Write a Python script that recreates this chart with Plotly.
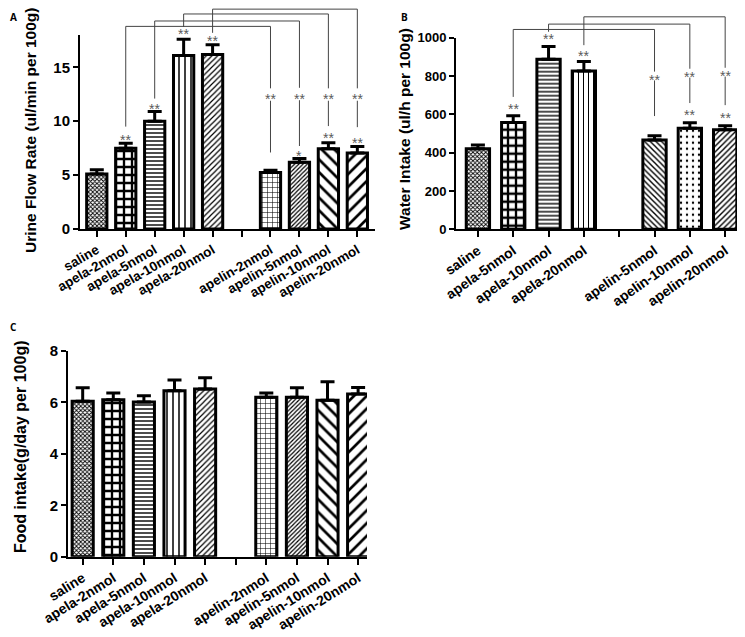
import plotly.graph_objects as go

W, H = 745, 637          # reference picture size
OFF = 8                  # default page (body) margin of the html page
FW, FH = W - OFF, H - OFF  # figure size so the figure fills the window exactly

# ---------------- data ----------------
# Panel A: urine flow rate
A_labels = ["saline", "apela-2nmol", "apela-5nmol", "apela-10nmol", "apela-20nmol", "",
            "apelin-2nmol", "apelin-5nmol", "apelin-10nmol", "apelin-20nmol"]
A_values = [5.1, 7.5, 10.0, 16.1, 16.2, 5.25, 6.2, 7.45, 7.05]
A_errors = [0.4, 0.45, 0.9, 1.5, 0.9, 0.2, 0.35, 0.55, 0.6]
A_stars = ["", "**", "**", "**", "**", "", "*", "**", "**"]
A_star_y = [None, 8.6, 11.5, 18.45, 17.8, None, 7.1, 8.8, 8.35]
A_br_left = [1, 2, 3, 4]
A_br_right = [6, 7, 8, 9]
A_br_top = [18.8, 19.3, 19.95, 20.4]
A_br_left_end = [9.5, 12.1, 18.75, 18.2]
A_br_star_y = [12.4, 12.45, 12.4, 12.4]
A_br_right_end = [7.1, 7.7, 9.55, 9.45]
A_ticks = [0, 5, 10, 15]

# Panel B: water intake
B_labels = ["saline", "apela-5nmol", "apela-10nmol", "apela-20nmol", "",
            "apelin-5nmol", "apelin-10nmol", "apelin-20nmol"]
B_values = [420, 558, 888, 826, 466, 528, 520]
B_errors = [20, 34, 66, 50, 22, 28, 20]
B_stars = ["", "**", "**", "**", "", "**", "**"]
B_star_y = [None, 648, 1013, 925, None, 617, 601]
B_br_left = [1, 2, 3]
B_br_right = [5, 6, 7]
B_br_top = [1043, 1071, 1109]
B_br_left_end = [691, 1031, 961]
B_br_star_y = [800, 815, 820]
B_br_right_end = [591, 659, 648]
B_ticks = [0, 200, 400, 600, 800, 1000]

# Panel C: food intake
C_labels = A_labels
C_values = [6.05, 6.1, 6.02, 6.45, 6.52, 6.2, 6.2, 6.08, 6.33]
C_errors = [0.52, 0.27, 0.24, 0.42, 0.44, 0.17, 0.37, 0.72, 0.25]
C_ticks = [0, 2, 4, 6, 8]

# ---------------- styles ----------------
A_pat_shape = ["x", "+", "-", "|", "/", "+", "/", "\\", "/"]
A_pat_size = [3, 8, 4, 6, 4, 5, 3, 9, 9]
A_pat_solid = [0.5, 0.5, 0.35, 0.25, 0.3, 0.2, 0.4, 0.3, 0.3]
B_pat_shape = ["x", "+", "-", "|", "\\", ".", "/"]
B_pat_size = [3, 8, 4, 5, 4, 6, 4]
B_pat_solid = [0.5, 0.5, 0.35, 0.2, 0.35, 0.12, 0.35]

FONT = "Liberation Sans"
LINE_C = "#444444"
STAR_C = "#5a5a5a"


def px_x(p):
    return max(0.0, (p - OFF) / FW)


def px_y(p):
    return 1 - (p - OFF) / FH


def dx(p0, p1):
    return [px_x(p0), px_x(p1)]


def dy(top, bot):
    return [px_y(bot), px_y(top)]


fig = go.Figure()

panels = [
    dict(x="x", y="y", labels=A_labels, values=A_values, errors=A_errors,
         shape=A_pat_shape, size=A_pat_size, solid=A_pat_solid,
         xd=dx(80, 375), yd=dy(35, 229), ymax=18, ticks=A_ticks,
         xr=[-0.58, 9.61], bw=0.70, angle=-30, xfs=13.5, yfs=15),
    dict(x="x2", y="y2", labels=B_labels, values=B_values, errors=B_errors,
         shape=B_pat_shape, size=B_pat_size, solid=B_pat_solid,
         xd=dx(456, 740), yd=dy(37.7, 229.3), ymax=1000, ticks=B_ticks,
         xr=[-0.62, 7.42], bw=0.66, angle=-35, xfs=14, yfs=13),
    dict(x="x3", y="y3", labels=C_labels, values=C_values, errors=C_errors,
         shape=A_pat_shape, size=A_pat_size, solid=A_pat_solid,
         xd=dx(68, 367), yd=dy(351, 556.7), ymax=8, ticks=C_ticks,
         xr=[-0.48, 9.29], bw=0.69, angle=-32, xfs=14, yfs=15),
]

layout = dict(template="none", width=FW, height=FH, autosize=False,
              margin=dict(l=0, r=0, t=0, b=0, pad=0),
              plot_bgcolor="rgba(0,0,0,0)", paper_bgcolor="white", showlegend=False,
              font=dict(family=FONT, color="black"))

for i, p in enumerate(panels):
    xs = [k for k, l in enumerate(p["labels"]) if l]
    fig.add_trace(go.Bar(
        x=xs, y=p["values"], width=p["bw"], xaxis=p["x"], yaxis=p["y"],
        marker=dict(color="white", line=dict(color="black", width=3),
                    pattern=dict(shape=p["shape"], size=p["size"], solidity=p["solid"],
                                 fgcolor="black", bgcolor="white", fillmode="replace")),
        error_y=dict(type="data", array=p["errors"], arrayminus=[0] * len(xs),
                     symmetric=False, color="black", thickness=3, width=7),
    ))
    xn = "xaxis" + p["x"][1:]
    yn = "yaxis" + p["y"][1:]
    layout[xn] = dict(domain=p["xd"], anchor=p["y"], range=p["xr"], automargin=False,
                      tickmode="array", tickvals=list(range(len(p["labels"]))),
                      ticktext=p["labels"], tickangle=p["angle"],
                      ticks="outside", ticklen=6, tickwidth=2, tickcolor="black",
                      showline=True, linewidth=2, linecolor="black",
                      showgrid=False, zeroline=False,
                      tickfont=dict(family=FONT, size=p["xfs"], weight="bold", color="black"))
    layout[yn] = dict(domain=p["yd"], anchor=p["x"], range=[0, p["ymax"]], automargin=False,
                      tickmode="array", tickvals=p["ticks"],
                      ticks="outside", ticklen=5, tickwidth=2, tickcolor="black",
                      showline=True, linewidth=2, linecolor="black",
                      showgrid=False, zeroline=False,
                      tickfont=dict(family=FONT, size=p["yfs"], weight="bold", color="black"))


# hidden axes (same scale, taller domain) for significance brackets
def bracket_axis(name, p):
    d0, d1 = p["yd"]
    top = 1.0
    rng = p["ymax"] * (top - d0) / (d1 - d0)
    layout[name] = dict(domain=[d0, top], anchor=p["x"], range=[0, rng], visible=False,
                        automargin=False, fixedrange=True, showgrid=False, zeroline=False)


bracket_axis("yaxis4", panels[0])
bracket_axis("yaxis5", panels[1])

annotations = []


def add_brackets(xa, ya, left, right, top, lend, stary, rend, gap_up, gap_dn):
    bx, by = [], []
    for l, r, t, le, s, re in zip(left, right, top, lend, stary, rend):
        bx += [l, l, r, r, None, r, r, None]
        by += [le, t, t, s + gap_up, None, s - gap_dn, re, None]
        annotations.append(dict(x=r, y=s, xref=xa, yref=ya, text="**", showarrow=False,
                                yshift=-4, font=dict(family=FONT, size=14, color=STAR_C)))
    fig.add_trace(go.Scatter(x=bx, y=by, mode="lines", xaxis=xa, yaxis=ya,
                             line=dict(color=LINE_C, width=1), hoverinfo="skip"))


def add_bar_stars(xa, ya, labels, stars, sy):
    xs = [k for k, l in enumerate(labels) if l]
    for x, s, y in zip(xs, stars, sy):
        if s and y is not None:
            annotations.append(dict(x=x, y=y, xref=xa, yref=ya, text=s, showarrow=False,
                                    yshift=-4, font=dict(family=FONT, size=14, color=STAR_C)))


add_brackets("x", "y4", A_br_left, A_br_right, A_br_top, A_br_left_end,
             A_br_star_y, A_br_right_end, 0.65, 0.5)
add_bar_stars("x", "y4", A_labels, A_stars, A_star_y)
add_brackets("x2", "y5", B_br_left, B_br_right, B_br_top, B_br_left_end,
             B_br_star_y, B_br_right_end, 23, 23)
add_bar_stars("x2", "y5", B_labels, B_stars, B_star_y)

# axis titles (text, centre x px, centre y px, size)
titles = [("Urine Flow Rate (ul/min per 100g)", 31, 131, 15.5),
          ("Water Intake (ul/h per 100g)", 405, 129, 15.5),
          ("Food intake(g/day per 100g)", 20, 447, 16)]
for t, xp, yp, fs in titles:
    annotations.append(dict(text=t, x=px_x(xp), y=px_y(yp), xref="paper", yref="paper",
                            textangle=-90, showarrow=False, xanchor="center", yanchor="middle",
                            font=dict(family=FONT, size=fs, weight="bold", color="black")))

# panel letters
for letter, xp, yp in [("A", 8, 8), ("B", 399, 8), ("C", 8, 318)]:
    annotations.append(dict(text=letter, x=px_x(xp), y=px_y(yp), xref="paper", yref="paper",
                            showarrow=False, xanchor="left", yanchor="top",
                            font=dict(family="Open Sans", size=10, weight="bold", color="black")))

layout["annotations"] = annotations
fig.update_layout(**layout)
fig.write_html("out.html")
